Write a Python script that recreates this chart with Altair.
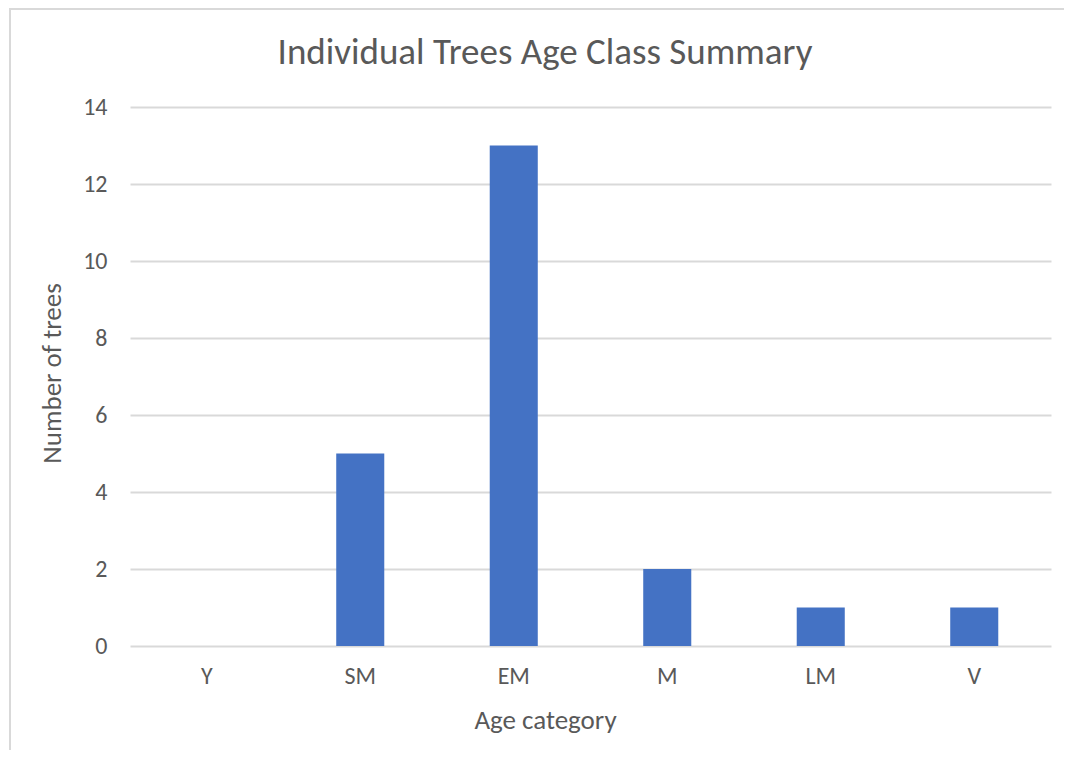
import altair as alt
import pandas as pd

title_text = "Individual Trees Age Class Summary"
x_title = "Age category"
y_title = "Number of trees"
categories = ["Y", "SM", "EM", "M", "LM", "V"]
counts = [0, 5, 13, 2, 1, 1]
y_ticks = [0, 2, 4, 6, 8, 10, 12, 14]

df = pd.DataFrame({"category": categories, "count": counts})
title_df = pd.DataFrame({"t": [title_text]})
border_df = pd.DataFrame({"k": [0]})

FONT = "Carlito, Calibri, Lato, sans-serif"
TEXT = "#595959"
GRID = "#d9d9d9"
BAR = "#4472C4"
W, H = 921, 539

bars = alt.Chart(df).mark_bar(color=BAR).encode(
    x=alt.X(
        "category:N",
        sort=categories,
        scale=alt.Scale(paddingInner=0.687, paddingOuter=0.3435),
        axis=alt.Axis(
            title=x_title, labelAngle=0, ticks=False, tickSize=0, domain=False, grid=False,
            labelPadding=37, labelBaseline="alphabetic", labelFontSize=24, labelColor=TEXT,
            labelFont=FONT, titleFont=FONT, titleFontSize=27, titleFontWeight="normal",
            titleColor=TEXT, titleX=415, titleY=82, titleAlign="center",
            titleBaseline="alphabetic",
        ),
    ),
    y=alt.Y(
        "count:Q",
        scale=alt.Scale(domain=[0, 14], nice=False),
        axis=alt.Axis(
            title=y_title, values=y_ticks, ticks=False, tickSize=0, domain=False, grid=True,
            gridColor=GRID, gridWidth=2, labelPadding=23, labelFontSize=24, labelColor=TEXT,
            labelFont=FONT, labelFlush=False, labelOverlap=False,
            titleFont=FONT, titleFontSize=27, titleFontWeight="normal", titleColor=TEXT,
            titleAngle=270, titleX=-70, titleY=266, titleAlign="center",
            titleBaseline="alphabetic",
        ),
    ),
)

title_mark = alt.Chart(title_df).mark_text(
    font=FONT, fontSize=37, color=TEXT, align="center", baseline="alphabetic"
).encode(x=alt.value(415), y=alt.value(-43), text="t:N")

left_rule = alt.Chart(border_df).mark_rule(color=GRID, strokeWidth=2).encode(
    x=alt.value(-120), y=alt.value(-99), y2=alt.value(H + 104)
)
top_rule = alt.Chart(border_df).mark_rule(color=GRID, strokeWidth=2).encode(
    y=alt.value(-98), x=alt.value(-121), x2=alt.value(W + 13)
)

chart = (
    alt.layer(bars, title_mark, left_rule, top_rule)
    .properties(
        width=W,
        height=H,
        autosize=alt.AutoSizeParams(type="none"),
        padding={"left": 122, "top": 99, "right": 13, "bottom": 104},
        background="white",
    )
    .configure_view(stroke="transparent")
)

chart.save("out.html", embed_options={"renderer": "svg", "actions": False})
